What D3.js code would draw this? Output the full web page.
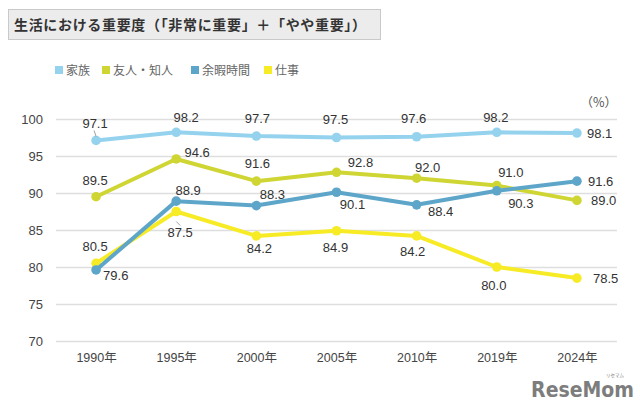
<!DOCTYPE html>
<html><head><meta charset="utf-8">
<script src="https://cdn.jsdelivr.net/npm/d3@7/dist/d3.min.js"></script>
<style>
body{margin:0;background:#fff;}
svg{display:block;font-family:"Liberation Sans",Arial,"Noto Sans CJK JP",sans-serif;}
</style></head>
<body><svg id="c" width="640" height="409"></svg>
<script>
// ---- data ----
const years = ["1990年","1995年","2000年","2005年","2010年","2019年","2024年"];
const seriesNames = ["家族","友人・知人","余暇時間","仕事"];
const family  = [97.1, 98.2, 97.7, 97.5, 97.6, 98.2, 98.1];
const friends = [89.5, 94.6, 91.6, 92.8, 92.0, 91.0, 89.0];
const leisure = [79.6, 88.9, 88.3, 90.1, 88.4, 90.3, 91.6];
const work    = [80.5, 87.5, 84.2, 84.9, 84.2, 80.0, 78.5];
const yTicks  = [70, 75, 80, 85, 90, 95, 100];
const title = "生活における重要度（「非常に重要」＋「やや重要」）";
const unit = "（%）";

// ---- layout / style ----
const colors = ["#95d2ee", "#cfd634", "#5ea6c9", "#f7eb26"];
// label offsets [dx, dy, anchor] per series/point
const labelPos = [
  [[-1,-17,"m"],[10,-15,"m"],[1,-18,"m"],[-1,-18,"m"],[-3,-18,"m"],[-1,-15,"m"],[10,0,"s"]],
  [[-1,-16,"m"],[21,-7,"m"],[1,-18,"m"],[24,-10,"m"],[11,-11,"m"],[14,-13,"m"],[14,0,"s"]],
  [[7,5,"s"],[12,-11,"m"],[16,-11,"m"],[16,12,"m"],[24,7,"m"],[24,13,"m"],[11,0,"s"]],
  [[-1,-17,"m"],[4,21,"m"],[3,13,"m"],[-1,17,"m"],[-4,16,"m"],[-3,18,"m"],[16,0,"s"]]
];
const leaders = [[0,0,[-2,-10],[0,-4]],[3,1,[0,10],[4,14]]]; // series, index, from, to

const svg = d3.select("#c");
const x = d3.scalePoint().domain(years).range([56, 617]).padding(0.5);
const y = d3.scaleLinear().domain([70, 100]).range([341, 119]);

// title box
svg.append("rect").attr("x",8.5).attr("y",9.5).attr("width",372).attr("height",30)
  .attr("fill","#ececec").attr("stroke","#c9c9c9");
svg.append("text").attr("x",14).attr("y",30).attr("font-size",14).attr("font-weight","bold")
  .attr("fill","#333").attr("font-family","'Noto Sans CJK JP',sans-serif")
  .attr("textLength",352).attr("lengthAdjust","spacing").text(title);

// legend
const legX = [55, 102, 191, 264];
seriesNames.forEach((n,i)=>{
  svg.append("rect").attr("x",legX[i]).attr("y",66).attr("width",8).attr("height",8).attr("fill",colors[i]);
  svg.append("text").attr("x",legX[i]+11).attr("y",74.5).attr("font-size",12).attr("fill","#666")
    .attr("font-family","'Noto Sans CJK JP',sans-serif").text(n);
});

// grid + y axis
const yAxis = d3.axisLeft(y).tickValues(yTicks).tickSize(-(617-56)).tickPadding(13);
const gy = svg.append("g").attr("transform","translate(56,0)").call(yAxis);
gy.select(".domain").remove();
gy.selectAll("line").attr("stroke","#dedede").attr("stroke-width",1.5);
gy.selectAll("text").attr("font-size",13).attr("fill","#444").attr("font-family","'Liberation Sans',Arial,sans-serif");

// x axis
const xAxis = d3.axisBottom(x).tickSize(0).tickPadding(0);
const gx = svg.append("g").attr("transform","translate(0,353)").call(xAxis);
gx.select(".domain").remove();
gx.selectAll("text").attr("font-size",12.5).attr("fill","#444").attr("dy","0.71em")
  .attr("font-family","'Liberation Sans','Noto Sans CJK JP',sans-serif");

// unit
svg.append("text").attr("x",617).attr("y",107).attr("text-anchor","end").attr("font-size",12.5)
  .attr("fill","#555").attr("font-family","'Noto Sans CJK JP',sans-serif").text(unit);

// lines
const allSeries = [family, friends, leisure, work];
const line = d3.line().x((d,i)=>x(years[i])).y(d=>y(d));
const drawOrder = [0,1,3,2];
drawOrder.forEach(si=>{
  const vals = allSeries[si];
  const g = svg.append("g");
  g.append("path").attr("d",line(vals)).attr("fill","none").attr("stroke",colors[si])
    .attr("stroke-width",4).attr("stroke-linejoin","round");
  g.selectAll("circle").data(vals).join("circle")
    .attr("cx",(d,i)=>x(years[i])).attr("cy",d=>y(d)).attr("r",4.8).attr("fill",colors[si]);
});

// leader lines
leaders.forEach(([si,i,f,t])=>{
  const px = x(years[i]), py = y(allSeries[si][i]);
  svg.append("line").attr("x1",px+f[0]).attr("y1",py+f[1])
    .attr("x2",px+t[0]).attr("y2",py+t[1]).attr("stroke","#888").attr("stroke-width",0.8);
});

// labels
allSeries.forEach((vals,si)=>{
  vals.forEach((v,i)=>{
    const [dx,dy,a] = labelPos[si][i];
    svg.append("text").attr("x",x(years[i])+dx).attr("y",y(v)+dy).attr("dy","0.35em")
      .attr("text-anchor",a==="s"?"start":"middle").attr("font-size",13).attr("fill","#333")
      .text(v.toFixed(1));
  });
});

// watermark
svg.append("text").attr("x",624).attr("y",377).attr("font-size",4.5).attr("fill","#7d7d7d")
  .attr("text-anchor","end").attr("font-family","'Noto Sans CJK JP',sans-serif").text("リセマム");
svg.append("text").attr("x",634).attr("y",397).attr("font-size",21).attr("font-weight","bold")
  .attr("text-anchor","end")
  .attr("fill","#7d7d7d").attr("font-family","'DejaVu Sans Condensed','DejaVu Sans',sans-serif")
  .text("ReseMom");
</script></body></html>
